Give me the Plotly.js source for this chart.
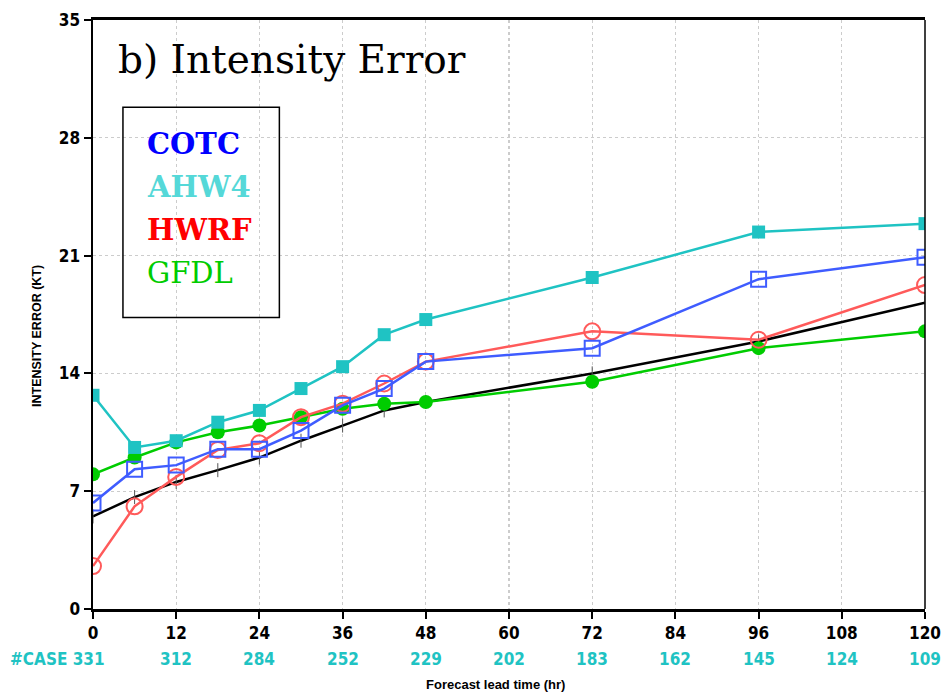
<!DOCTYPE html>
<html><head><meta charset="utf-8">
<script src="https://cdn.plot.ly/plotly-3.0.1.min.js"></script>
<style>html,body{margin:0;padding:0;background:#fff}</style>
</head><body>
<div id="chart" style="width:945px;height:693px"></div>
<script>
const leadTimes = [0, 6, 12, 18, 24, 30, 36, 42, 48, 72, 96, 120];
const cotc = [6.3, 8.3, 8.55, 9.5, 9.5, 10.6, 12.1, 13.1, 14.7, 15.5, 19.6, 20.9];
const ahw4 = [12.7, 9.6, 10.0, 11.1, 11.8, 13.1, 14.4, 16.3, 17.2, 19.7, 22.4, 22.9];
const hwrf = [2.55, 6.1, 7.85, 9.45, 9.85, 11.4, 12.2, 13.4, 14.7, 16.5, 16.0, 19.25];
const gfdl = [8.0, 9.0, 9.9, 10.5, 10.9, 11.4, 11.9, 12.2, 12.3, 13.5, 15.5, 16.5];
const baseline = [5.5, 6.65, 7.55, 8.25, 9.0, 10.0, 10.9, 11.8, 12.3, 14.0, 15.9, 18.2];
const caseTimes = [0, 12, 24, 36, 48, 60, 72, 84, 96, 108, 120];
const caseCounts = [331, 312, 284, 252, 229, 202, 183, 162, 145, 124, 109];
const xTicks = [0, 12, 24, 36, 48, 60, 72, 84, 96, 108, 120];
const yTicks = [0, 7, 14, 21, 28, 35];
const legendNames = ['COTC', 'AHW4', 'HWRF', 'GFDL'];
const legendColors = ['#0000ff', '#55d8d8', '#ff0000', '#00cc00'];
const legendBold = [true, true, true, false];

const tickFont = {family: '"Liberation Sans Narrow", "DejaVu Sans Condensed", "Liberation Sans", sans-serif', size: 17, color: '#000', weight: 'bold'};
const serif = '"DejaVu Serif", "Liberation Serif", serif';

const traces = [
  {x: leadTimes, y: baseline, name: 'Baseline', mode: 'lines+markers', line: {color: '#000', width: 2.5},
   marker: {symbol: 'line-ns', size: 10, line: {color: '#555', width: 1}}},
  {x: leadTimes, y: gfdl, name: 'GFDL', mode: 'lines+markers', line: {color: '#00cc00', width: 2.5},
   marker: {symbol: 'circle', size: 14, color: '#00cc00'}},
  {x: leadTimes, y: hwrf, name: 'HWRF', mode: 'lines+markers', line: {color: '#ff5a5a', width: 2.5},
   marker: {symbol: 'circle-open', size: 16, color: '#ff5a5a', line: {width: 2}}},
  {x: leadTimes, y: cotc, name: 'COTC', mode: 'lines+markers', line: {color: '#3f5cff', width: 2.5},
   marker: {symbol: 'square-open', size: 15, color: '#3f5cff', line: {width: 2}}},
  {x: leadTimes, y: ahw4, name: 'AHW4', mode: 'lines+markers', line: {color: '#1fc3c3', width: 2.5},
   marker: {symbol: 'square', size: 13, color: '#1fc3c3'}}
];

const annotations = [
  {xref: 'paper', yref: 'paper', x: 0.028, y: 0.933, xanchor: 'left', yanchor: 'middle', showarrow: false,
   text: 'b) Intensity Error', font: {family: serif, size: 39, color: '#000'}},
  {xref: 'paper', yref: 'paper', x: 0, y: 0.4635, xshift: -56, xanchor: 'center', yanchor: 'middle', showarrow: false,
   textangle: -90, text: '<b>INTENSITY ERROR (KT)</b>', font: {family: '"Liberation Sans", sans-serif', size: 12.5, color: '#000'}},
  {xref: 'paper', yref: 'paper', x: 0.484, y: 0, yshift: -75, xanchor: 'center', yanchor: 'middle', showarrow: false,
   text: '<b>Forecast lead time (hr)</b>', font: {family: '"Liberation Sans", sans-serif', size: 13, color: '#000'}}
];
legendNames.forEach((n, i) => {
  annotations.push({xref: 'paper', yref: 'paper', x: 0.063, y: 0.79 - i * 0.073, xanchor: 'left', yanchor: 'middle',
    showarrow: false, text: legendBold[i] ? '<b>' + n + '</b>' : n,
    font: {family: serif, size: 29, color: legendColors[i]}});
});
caseTimes.forEach((t, i) => {
  annotations.push({xref: 'x', yref: 'paper', x: t, y: -0.085, xanchor: i === 0 ? 'left' : 'center', xshift: i === 0 ? -85 : 0,
    yanchor: 'middle', showarrow: false,
    text: (i === 0 ? '#CASE ' : '') + caseCounts[i],
    font: {family: tickFont.family, size: 17, color: '#1fc3c3', weight: 'bold'}});
});

const layout = {
  width: 945, height: 693,
  margin: {l: 93, r: 20, t: 20, b: 84},
  paper_bgcolor: '#fff', plot_bgcolor: '#fff',
  showlegend: false,
  font: {family: tickFont.family, color: '#000'},
  xaxis: {range: [0, 120], tickvals: xTicks, ticktext: xTicks.map(String), ticks: 'outside', ticklen: 7, tickwidth: 2,
    tickcolor: '#000', tickfont: tickFont, showline: true, linecolor: '#000', linewidth: 3, mirror: true,
    showgrid: true, gridcolor: '#cccccc', griddash: 'dot', gridwidth: 1.2, zeroline: false},
  yaxis: {range: [0, 35], tickvals: yTicks, ticktext: yTicks.map(String), ticks: 'outside', ticklen: 7, tickwidth: 2,
    tickcolor: '#000', tickfont: tickFont, showline: true, linecolor: '#000', linewidth: 2.5, mirror: false,
    showgrid: true, gridcolor: '#cccccc', griddash: 'dot', gridwidth: 1.2, zeroline: false},
  shapes: [
    {type: 'line', xref: 'paper', yref: 'paper', x0: 1, x1: 1, y0: 0, y1: 1, line: {color: '#000', width: 1.5}},
    {type: 'rect', xref: 'paper', yref: 'paper', x0: 0.036, x1: 0.224, y0: 0.495, y1: 0.852, line: {color: '#000', width: 1.5}}
  ],
  annotations: annotations
};

Plotly.newPlot('chart', traces, layout, {displayModeBar: false, staticPlot: true});
</script>
</body></html>
